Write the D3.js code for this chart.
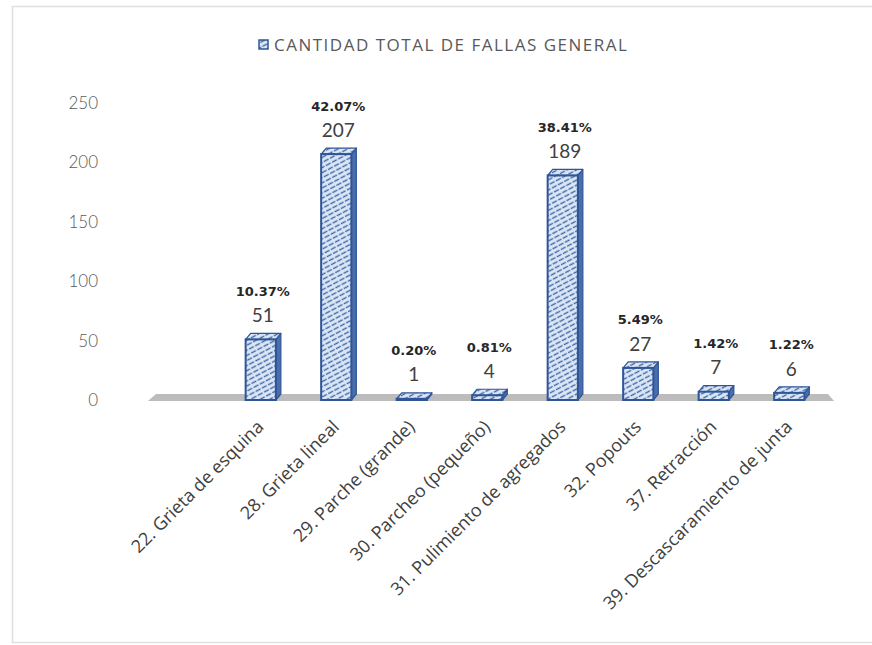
<!DOCTYPE html>
<html>
<head>
<meta charset="utf-8">
<script src="https://cdn.jsdelivr.net/npm/d3@7"></script>
<style>
  html, body { margin: 0; padding: 0; background: #fff; }
  svg { display: block; }
</style>
</head>
<body>
<svg id="chart" width="872" height="645"></svg>
<script>
const categories = [
  "22. Grieta de esquina",
  "28. Grieta lineal",
  "29. Parche (grande)",
  "30. Parcheo (pequeño)",
  "31. Pulimiento de agregados",
  "32. Popouts",
  "37. Retracción",
  "39. Descascaramiento de junta"
];
const values = [51, 207, 1, 4, 189, 27, 7, 6];
const percents = ["10.37%", "42.07%", "0.20%", "0.81%", "38.41%", "5.49%", "1.42%", "1.22%"];
const yTicks = [0, 50, 100, 150, 200, 250];
const seriesName = "CANTIDAD TOTAL DE FALLAS GENERAL";

const svg = d3.select("#chart");

// chart frame
svg.append("rect")
  .attr("x", 12.5).attr("y", 6.5).attr("width", 880).attr("height", 636)
  .attr("fill", "none").attr("stroke", "#e0e0e0").attr("stroke-width", 1.5);

// hatch pattern
const defs = svg.append("defs");
const pat = defs.append("pattern")
  .attr("id", "hatch").attr("patternUnits", "userSpaceOnUse")
  .attr("width", 7).attr("height", 4.5)
  .attr("patternTransform", "rotate(-28)");
pat.append("rect").attr("width", 7).attr("height", 4.5).attr("fill", "#dce8f6");
pat.append("line").attr("x1", 0).attr("y1", 2.2).attr("x2", 5.5).attr("y2", 2.2)
  .attr("stroke", "#3f65a8").attr("stroke-width", 1.4);

const y = d3.scaleLinear().domain([0, 250]).range([400, 103]);
const x = d3.scaleBand().domain(categories).range([223, 827])
  .paddingInner(0.6).paddingOuter(0.3);

const dx = 5, dy = -6;
const y0 = y(0);

// floor
const floorL = 148, floorR = 834;
svg.append("path")
  .attr("d", `M${floorL},${y0 + 1} L${floorL + 8},${y0 - 6} L${floorR - 6},${y0 - 6} L${floorR},${y0 + 1} Z`)
  .attr("fill", "#bcbcbc");

// y axis
const yAxis = d3.axisLeft(y).tickValues(yTicks).tickSize(0).tickPadding(0);
const gy = svg.append("g").attr("transform", "translate(98,0)").call(yAxis);
gy.select(".domain").remove();
gy.selectAll("text")
  .attr("font-family", "Lato, 'Open Sans', sans-serif")
  .attr("font-size", 17).attr("fill", "#595959").attr("font-weight", 300);

// bars
const bars = svg.append("g");
const bw = x.bandwidth();
categories.forEach((c, i) => {
  const v = values[i];
  const x0 = x(c), yt = y(v);
  const g = bars.append("g");
  // side face
  g.append("path")
    .attr("d", `M${x0 + bw},${yt} L${x0 + bw + dx},${yt + dy} L${x0 + bw + dx},${y0 + dy} L${x0 + bw},${y0} Z`)
    .attr("fill", "#4a6eab").attr("stroke", "#2f5597").attr("stroke-width", 1.2).attr("stroke-linejoin", "round");
  // top face
  g.append("path")
    .attr("d", `M${x0},${yt} L${x0 + dx},${yt + dy} L${x0 + bw + dx},${yt + dy} L${x0 + bw},${yt} Z`)
    .attr("fill", "url(#hatch)").attr("stroke", "#2f5597").attr("stroke-width", 1.2).attr("stroke-linejoin", "round");
  // front face
  g.append("rect")
    .attr("x", x0).attr("y", yt).attr("width", bw).attr("height", y0 - yt)
    .attr("fill", "url(#hatch)").attr("stroke", "#2f5597").attr("stroke-width", 2);
});

// value labels
const labels = svg.append("g");
categories.forEach((c, i) => {
  const cx = x(c) + bw / 2 + 2;
  const yt = y(values[i]);
  labels.append("text")
    .attr("x", cx).attr("y", yt - 24).attr("dy", "0.35em")
    .attr("text-anchor", "middle")
    .attr("font-family", "Lato, 'Open Sans', sans-serif")
    .attr("font-size", 19).attr("fill", "#404040")
    .text(values[i]);
  labels.append("text")
    .attr("x", cx).attr("y", yt - 48).attr("dy", "0.35em")
    .attr("text-anchor", "middle")
    .attr("font-family", "'DejaVu Sans', Verdana, sans-serif")
    .attr("font-size", 13).attr("font-weight", "bold").attr("fill", "#262626")
    .text(percents[i]);
});

// x axis labels
const xl = svg.append("g");
categories.forEach((c) => {
  const ax = x(c) + bw / 2 + 4, ay = 428;
  xl.append("text")
    .attr("transform", `translate(${ax},${ay}) rotate(-45)`)
    .attr("text-anchor", "end")
    .attr("font-family", "'Open Sans', Lato, sans-serif")
    .attr("font-size", 18).attr("fill", "#404040")
    .text(c);
});

// legend / title
const lg = svg.append("g");
lg.append("rect").attr("x", 259).attr("y", 40).attr("width", 9).attr("height", 9)
  .attr("fill", "url(#hatch)").attr("stroke", "#2f5597").attr("stroke-width", 1.5);
lg.append("text").attr("x", 274).attr("y", 45).attr("dy", "0.35em")
  .attr("font-family", "'Open Sans', Lato, sans-serif")
  .attr("font-size", 17).attr("letter-spacing", 1.5).attr("fill", "#595959")
  .text(seriesName);
</script>
</body>
</html>
